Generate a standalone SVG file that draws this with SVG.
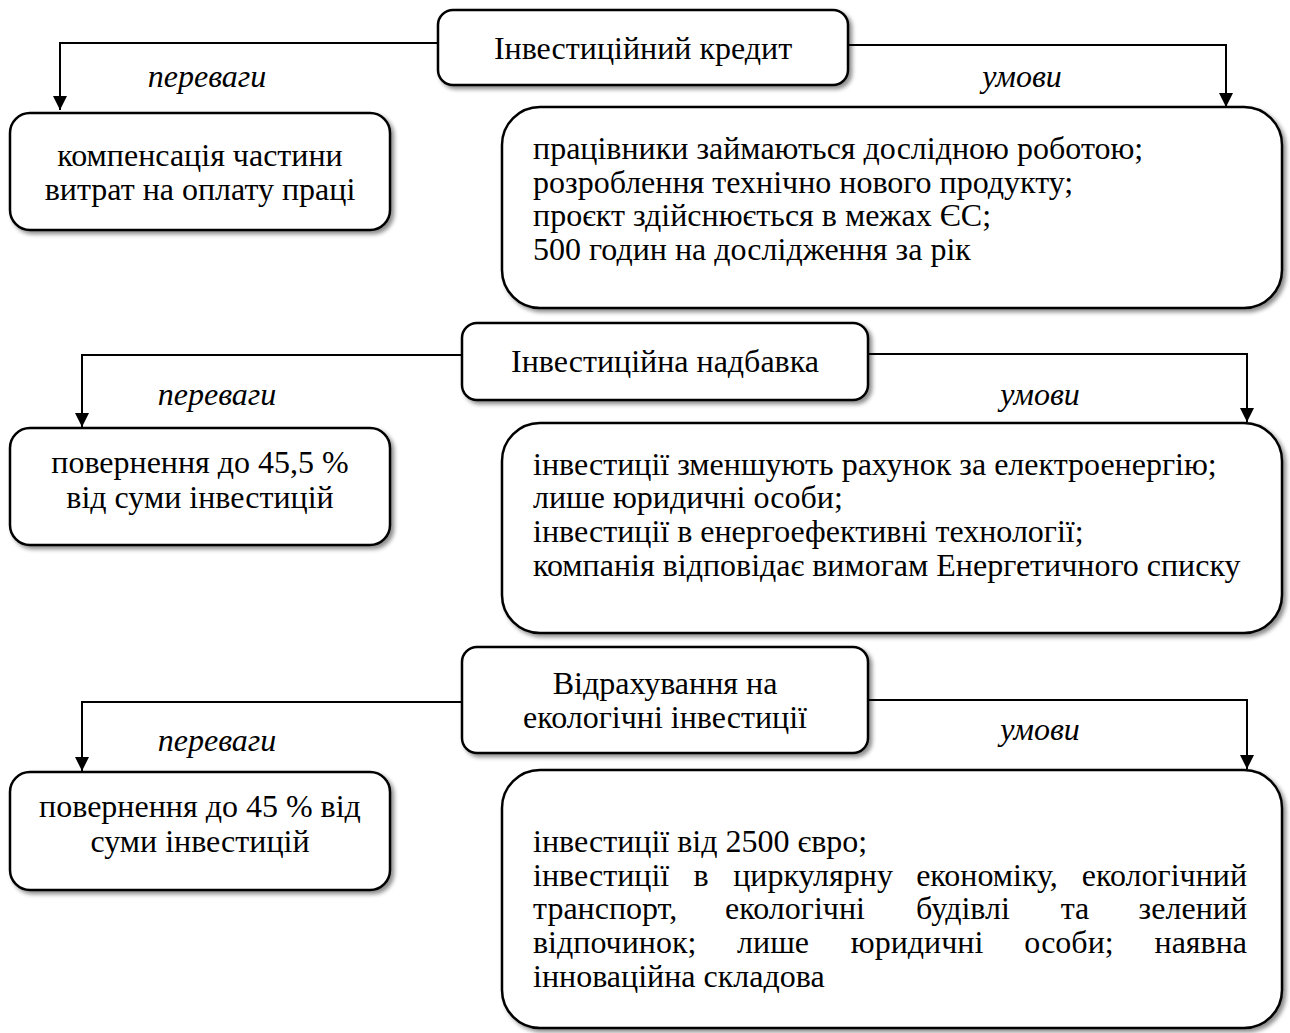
<svg xmlns="http://www.w3.org/2000/svg" width="1290" height="1033" viewBox="0 0 1290 1033">
  <defs>
    <filter id="shadow" x="-5%" y="-5%" width="115%" height="120%">
      <feDropShadow dx="3" dy="3" stdDeviation="2.2" flood-color="#000" flood-opacity="0.45"/>
    </filter>
    <marker id="arrow" viewBox="0 0 10 10" refX="10" refY="5" markerWidth="14" markerHeight="14" markerUnits="userSpaceOnUse" orient="auto">
      <path d="M0,0 L10,5 L0,10 z" fill="#000"/>
    </marker>
  </defs>
  <style>
    .box { fill: #fff; stroke: #000; stroke-width: 2.5; filter: url(#shadow); }
    .link { fill: none; stroke: #000; stroke-width: 2; marker-end: url(#arrow); }
    text { font-family: "Liberation Serif", "Times New Roman", serif; font-size: 32px; fill: #000; }
    .c { text-anchor: middle; }
    .m { text-anchor: middle; }
    .e { text-anchor: end; }
    .lbl { font-style: italic; text-anchor: middle; }
  </style>

  <rect width="1290" height="1033" fill="#fff"/>

  <!-- connectors -->
  <g id="connectors">
    <polyline class="link" points="438,43 60,43 60,110"/>
    <polyline class="link" points="848,45 1226,45 1226,107"/>
    <polyline class="link" points="462,355 82,355 82,427"/>
    <polyline class="link" points="868,354 1247,354 1247,422"/>
    <polyline class="link" points="462,702 82,702 82,771"/>
    <polyline class="link" points="868,700 1247,700 1247,769"/>
  </g>

  <!-- edge labels -->
  <g id="labels">
    <text class="lbl" x="207" y="87">переваги</text>
    <text class="lbl" x="1022" y="87">умови</text>
    <text class="lbl" x="217" y="405">переваги</text>
    <text class="lbl" x="1040" y="405">умови</text>
    <text class="lbl" x="217" y="751">переваги</text>
    <text class="lbl" x="1040" y="740">умови</text>
  </g>

  <!-- section 1 -->
  <g id="node-credit">
    <rect class="box" x="438" y="10" width="410" height="75" rx="15"/>
    <text class="c" x="643" y="59">Інвестиційний кредит</text>
  </g>
  <g id="node-credit-benefits">
    <rect class="box" x="10" y="113" width="380" height="117" rx="20"/>
    <text class="c" x="200" y="166">компенсація частини</text>
    <text class="c" x="200" y="200">витрат на оплату праці</text>
  </g>
  <g id="node-credit-conditions">
    <rect class="box" x="502" y="107" width="780" height="201" rx="38"/>
    <text x="533" y="159">працівники займаються дослідною роботою;</text>
    <text x="533" y="193">розроблення технічно нового продукту;</text>
    <text x="533" y="226">проєкт здійснюється в межах ЄС;</text>
    <text x="533" y="260">500 годин на дослідження за рік</text>
  </g>

  <!-- section 2 -->
  <g id="node-allowance">
    <rect class="box" x="462" y="323" width="406" height="77" rx="15"/>
    <text class="c" x="665" y="372">Інвестиційна надбавка</text>
  </g>
  <g id="node-allowance-benefits">
    <rect class="box" x="10" y="428" width="380" height="117" rx="20"/>
    <text class="c" x="200" y="473">повернення до 45,5 %</text>
    <text class="c" x="200" y="508">від суми інвестицій</text>
  </g>
  <g id="node-allowance-conditions">
    <rect class="box" x="502" y="423" width="780" height="210" rx="38"/>
    <text x="533" y="475">інвестиції зменшують рахунок за електроенергію;</text>
    <text x="533" y="508">лише юридичні особи;</text>
    <text x="533" y="542">інвестиції в енергоефективні технології;</text>
    <text x="533" y="576">компанія відповідає вимогам Енергетичного списку</text>
  </g>

  <!-- section 3 -->
  <g id="node-eco">
    <rect class="box" x="462" y="647" width="406" height="106" rx="15"/>
    <text class="c" x="665" y="694">Відрахування на</text>
    <text class="c" x="665" y="728">екологічні інвестиції</text>
  </g>
  <g id="node-eco-benefits">
    <rect class="box" x="10" y="772" width="380" height="118" rx="20"/>
    <text class="c" x="200" y="817">повернення до 45 % від</text>
    <text class="c" x="200" y="852">суми інвестицій</text>
  </g>
  <g id="node-eco-conditions">
    <rect class="box" x="502" y="770" width="780" height="258" rx="38"/>
    <text x="533" y="852">інвестиції від 2500 євро;</text>
    <text y="886"><tspan x="533">інвестиції</tspan><tspan class="m" x="701">в</tspan><tspan class="m" x="813">циркулярну</tspan><tspan class="m" x="987">економіку,</tspan><tspan class="e" x="1247">екологічний</tspan></text>
    <text y="919"><tspan x="533">транспорт,</tspan><tspan class="m" x="795">екологічні</tspan><tspan class="m" x="963">будівлі</tspan><tspan class="m" x="1075">та</tspan><tspan class="e" x="1247">зелений</tspan></text>
    <text y="953"><tspan x="533">відпочинок;</tspan><tspan class="m" x="773">лише</tspan><tspan class="m" x="917">юридичні</tspan><tspan class="m" x="1069">особи;</tspan><tspan class="e" x="1247">наявна</tspan></text>
    <text x="533" y="987">інноваційна складова</text>
  </g>
</svg>
